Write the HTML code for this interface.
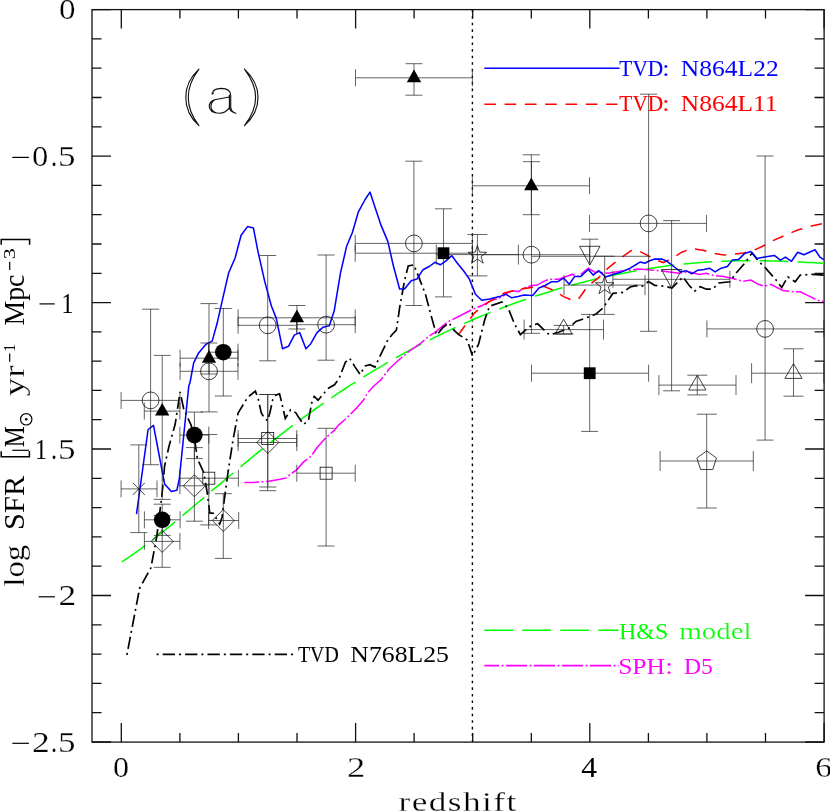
<!DOCTYPE html>
<html><head><meta charset="utf-8"><title>SFR vs redshift</title>
<style>html,body{margin:0;padding:0;background:#fff;}svg{display:block;}text{-webkit-font-smoothing:antialiased;}</style></head>
<body><svg width="830" height="811" viewBox="0 0 830 811">
<rect width="830" height="811" fill="#fff"/>
<g style="opacity:0.999">
<rect x="92.0" y="9.6" width="732.1" height="732.5" stroke="#111" stroke-width="1.3" fill="none"/>
<path d="M121.3,742.1v-19M121.3,9.6v19M179.9,742.1v-9M179.9,9.6v9M238.4,742.1v-9M238.4,9.6v9M297.0,742.1v-9M297.0,9.6v9M355.6,742.1v-19M355.6,9.6v19M414.1,742.1v-9M414.1,9.6v9M472.7,742.1v-9M472.7,9.6v9M531.3,742.1v-9M531.3,9.6v9M589.8,742.1v-19M589.8,9.6v19M648.4,742.1v-9M648.4,9.6v9M706.9,742.1v-9M706.9,9.6v9M765.5,742.1v-9M765.5,9.6v9M824.1,742.1v-19M824.1,9.6v19M92.0,9.6h19M824.1,9.6h-19M92.0,38.9h9.5M824.1,38.9h-9.5M92.0,68.2h9.5M824.1,68.2h-9.5M92.0,97.5h9.5M824.1,97.5h-9.5M92.0,126.8h9.5M824.1,126.8h-9.5M92.0,156.1h19M824.1,156.1h-19M92.0,185.4h9.5M824.1,185.4h-9.5M92.0,214.7h9.5M824.1,214.7h-9.5M92.0,244.0h9.5M824.1,244.0h-9.5M92.0,273.3h9.5M824.1,273.3h-9.5M92.0,302.6h19M824.1,302.6h-19M92.0,331.9h9.5M824.1,331.9h-9.5M92.0,361.2h9.5M824.1,361.2h-9.5M92.0,390.4h9.5M824.1,390.4h-9.5M92.0,419.7h9.5M824.1,419.7h-9.5M92.0,449.0h19M824.1,449.0h-19M92.0,478.3h9.5M824.1,478.3h-9.5M92.0,507.6h9.5M824.1,507.6h-9.5M92.0,536.9h9.5M824.1,536.9h-9.5M92.0,566.2h9.5M824.1,566.2h-9.5M92.0,595.5h19M824.1,595.5h-19M92.0,624.8h9.5M824.1,624.8h-9.5M92.0,654.1h9.5M824.1,654.1h-9.5M92.0,683.4h9.5M824.1,683.4h-9.5M92.0,712.7h9.5M824.1,712.7h-9.5M92.0,742.0h19M824.1,742.0h-19" stroke="#111" stroke-width="1.3" fill="none"/>
<path d="M472.4,9.6V741" stroke="#000" stroke-width="1.4" stroke-dasharray="2.6 3.98" fill="none"/>
<path d="M121.3,562.1 L127.2,558.4 L133.0,554.4 L138.9,550.2 L144.7,545.9 L150.6,541.5 L156.4,536.9 L162.3,532.2 L168.2,527.5 L174.0,522.7 L179.9,517.8 L185.7,512.9 L191.6,508.0 L197.4,503.0 L203.3,498.1 L209.1,493.1 L215.0,488.2 L220.9,483.3 L226.7,478.4 L232.6,473.5 L238.4,468.6 L244.3,463.7 L250.1,458.9 L256.0,454.1 L261.9,449.4 L267.7,444.7 L273.6,440.1 L279.4,435.6 L285.3,431.1 L291.1,426.6 L297.0,422.3 L302.9,417.9 L308.7,413.7 L314.6,409.5 L320.4,405.4 L326.3,401.3 L332.1,397.3 L338.0,393.4 L343.8,389.5 L349.7,385.7 L355.6,382.0 L361.4,378.3 L367.3,374.7 L373.1,371.1 L379.0,367.6 L384.8,364.2 L390.7,360.8 L396.6,357.5 L402.4,354.2 L408.3,351.0 L414.1,347.9 L420.0,344.8 L425.8,341.8 L431.7,338.9 L437.6,336.0 L443.4,333.1 L449.3,330.4 L455.1,327.6 L461.0,325.0 L466.8,322.4 L472.7,319.8 L478.5,317.3 L484.4,314.9 L490.3,312.5 L496.1,310.2 L502.0,308.0 L507.8,305.8 L513.7,303.6 L519.5,301.5 L525.4,299.5 L531.3,297.5 L537.1,295.6 L543.0,293.7 L548.8,291.9 L554.7,290.1 L560.5,288.3 L566.4,286.7 L572.3,285.0 L578.1,283.5 L584.0,281.9 L589.8,280.5 L595.7,279.1 L601.5,277.7 L607.4,276.4 L613.2,275.2 L619.1,274.0 L625.0,272.9 L630.8,271.8 L636.7,270.7 L642.5,269.7 L648.4,268.7 L654.2,267.8 L660.1,266.9 L666.0,266.1 L671.8,265.3 L677.7,264.6 L683.5,264.0 L689.4,263.4 L695.2,262.9 L701.1,262.4 L706.9,262.1 L712.8,261.7 L718.7,261.4 L724.5,261.2 L730.4,261.0 L736.2,260.8 L742.1,260.7 L747.9,260.7 L753.8,260.7 L759.7,260.7 L765.5,260.8 L771.4,260.9 L777.2,261.1 L783.1,261.3 L788.9,261.5 L794.8,261.8 L800.7,262.1 L806.5,262.4 L812.4,262.6 L818.2,262.9 L824.1,263.3" stroke="#00ff00" stroke-width="1.55" fill="none" stroke-dasharray="28.7 9.35" stroke-dashoffset="-0.55"/>
<path d="M244.3,482.4 L253.5,482.4 L263.1,481.7 L268.9,481.2 L280.0,479.3 L286.3,477.9 L290.1,474.5 L296.9,469.6 L303.6,461.9 L311.3,456.1 L317.1,447.5 L325.8,437.8 L334.5,430.1 L338.3,425.3 L345.1,419.5 L349.9,414.7 L355.7,408.9 L363.4,400.2 L367.2,393.5 L373.0,386.7 L380.7,380.0 L389.6,368.5 L398.7,360.0 L410.8,350.0 L419.8,344.0 L428.2,336.8 L435.9,331.7 L447.5,322.0 L461.0,315.3 L472.5,309.3 L482.2,305.5 L490.8,300.6 L499.3,298.0 L503.4,295.8 L508.0,292.5 L512.8,290.8 L518.6,291.6 L523.4,288.2 L528.2,286.7 L532.5,285.3 L536.9,285.3 L542.7,281.9 L548.8,279.3 L558.6,279.3 L572.2,274.4 L578.4,276.4 L588.2,268.2 L594.4,271.9 L608.0,273.2 L622.8,270.7 L630.0,270.2 L637.4,269.0 L644.8,269.5 L659.6,270.7 L669.5,271.9 L679.3,273.2 L689.2,271.9 L699.1,274.4 L706.4,273.2 L713.8,275.6 L723.7,276.4 L733.6,278.8 L743.4,281.3 L750.8,280.1 L758.2,284.3 L764.4,286.2 L770.6,284.3 L782.9,290.4 L792.8,291.7 L800.2,291.7 L807.6,295.4 L817.4,300.3 L823.8,301.5" stroke="#ff00ff" stroke-width="1.55" fill="none" stroke-dasharray="21.2 2.5 1.9 2.4" stroke-dashoffset="6.4"/>
<path d="M456.0,337.0 L460.0,332.4 L474.8,312.6 L489.6,301.5 L504.4,292.9 L519.2,289.2 L534.0,287.2 L543.8,286.2 L553.7,290.4 L563.6,296.6 L572.2,300.3 L578.4,299.1 L588.2,285.5 L598.1,278.1 L608.0,268.2 L620.3,258.4 L632.6,249.7 L640.0,251.5 L648.5,255.9 L654.7,259.6 L663.3,262.6 L671.9,258.4 L681.8,252.2 L691.7,248.5 L704.0,250.5 L713.8,253.4 L723.7,254.9 L733.6,254.2 L743.4,252.9 L753.3,250.5 L763.2,246.0 L773.0,240.6 L782.9,236.2 L797.7,230.0 L812.5,225.8 L823.8,223.4" stroke="#ff0000" stroke-width="1.55" fill="none" stroke-dasharray="11.6 8.7" stroke-dashoffset="-3"/>
<path d="M126.9,654.8 L139.6,588.3 L150.9,567.8 L156.7,537.0 L160.4,507.4 L161.7,498.0 L164.6,466.0 L169.0,446.3 L175.2,424.1 L180.1,392.0 L183.8,409.3 L191.2,425.4 L194.9,441.4 L197.4,458.6 L203.6,472.2 L207.3,493.2 L209.7,512.9 L213.4,513.4 L219.6,524.0 L222.0,517.8 L224.5,498.1 L228.2,471.0 L233.2,438.9 L238.1,413.0 L240.0,409.9 L247.7,397.3 L255.4,391.2 L258.3,399.3 L261.2,412.8 L264.1,417.6 L267.5,420.8 L269.9,412.8 L272.8,399.3 L276.0,395.0 L279.5,393.9 L281.4,401.2 L285.3,418.6 L290.5,409.9 L295.9,412.8 L298.8,417.6 L303.6,424.3 L308.4,420.5 L311.7,403.1 L314.2,396.4 L318.1,400.2 L322.9,394.5 L327.7,388.7 L334.5,384.8 L339.3,378.0 L345.4,362.2 L349.8,358.5 L355.2,367.1 L360.1,374.5 L365.1,365.9 L370.0,364.7 L374.9,367.1 L381.1,353.8 L388.0,339.6 L392.4,334.2 L396.4,330.2 L399.6,308.0 L404.5,280.8 L408.2,266.0 L413.9,264.8 L419.3,278.4 L425.5,294.4 L431.7,317.8 L436.6,335.1 L442.8,327.7 L448.9,322.8 L453.9,330.2 L458.8,334.6 L467.2,340.0 L472.5,356.0 L478.5,344.4 L484.7,319.7 L489.6,306.2 L501.9,302.0 L508.1,308.0 L514.3,323.5 L520.4,334.6 L524.4,331.0 L531.5,325.4 L537.7,323.8 L545.1,331.0 L549.5,335.0 L558.6,332.2 L568.5,328.5 L575.9,321.5 L585.8,318.0 L595.6,314.3 L603.0,308.0 L612.9,293.4 L622.8,292.4 L630.2,287.0 L636.0,285.7 L642.3,286.2 L648.5,281.6 L654.7,285.3 L664.5,286.2 L671.9,288.0 L678.1,281.8 L683.0,276.9 L689.2,285.5 L694.6,291.2 L700.3,286.7 L706.4,289.2 L712.6,289.2 L718.8,283.0 L729.9,281.8 L736.0,273.2 L744.7,263.3 L752.1,252.9 L758.2,260.8 L765.6,268.2 L775.5,279.3 L781.7,287.5 L787.8,276.9 L795.2,281.8 L800.2,275.1 L812.5,274.4 L823.8,275.1" stroke="#000" stroke-width="1.7" fill="none" stroke-dasharray="2 4.1 12.3 4"/>
<path d="M136.5,514.1 L148.1,429.5 L153.5,425.4 L164.6,484.0 L171.3,491.5 L176.9,490.2 L179.3,479.0 L185.3,420.0 L188.8,385.9 L190.0,382.5 L193.7,362.8 L198.6,352.9 L206.0,344.3 L212.2,341.1 L217.1,323.3 L223.3,296.2 L228.7,272.7 L235.1,258.0 L241.1,235.3 L247.5,226.6 L253.4,227.9 L257.8,250.6 L264.7,281.4 L271.4,306.0 L276.3,318.4 L282.5,348.7 L288.6,346.2 L294.3,335.1 L299.7,332.6 L305.9,348.7 L310.8,343.7 L317.0,332.6 L323.2,327.2 L329.3,325.7 L334.3,310.4 L340.4,273.4 L346.6,246.3 L352.3,232.7 L358.4,211.8 L365.1,199.5 L370.0,192.1 L374.9,206.9 L381.1,225.4 L387.8,241.4 L393.4,266.0 L399.6,289.0 L404.5,289.0 L411.2,280.8 L416.9,279.1 L423.0,269.7 L429.2,266.5 L434.9,262.3 L440.3,264.8 L445.7,261.1 L451.9,255.7 L457.6,263.6 L463.7,271.0 L469.4,279.1 L475.4,294.3 L481.7,300.3 L489.6,299.1 L499.5,296.6 L505.6,294.1 L511.8,297.8 L518.0,296.6 L524.1,294.9 L532.7,295.4 L538.9,288.0 L545.1,285.5 L551.2,281.8 L557.4,281.8 L563.6,278.1 L569.2,284.3 L574.7,276.4 L580.8,276.4 L588.2,269.5 L593.2,275.1 L598.6,270.7 L605.5,276.9 L612.9,274.4 L621.5,271.9 L630.2,268.2 L636.2,264.5 L639.9,262.1 L644.8,263.3 L649.7,260.8 L654.7,259.1 L662.1,259.1 L667.0,261.3 L674.4,267.0 L680.6,271.9 L686.2,270.7 L691.7,273.9 L697.8,270.2 L704.0,269.5 L709.4,268.2 L715.1,271.9 L721.2,268.2 L727.4,266.5 L732.3,260.1 L738.5,259.6 L744.7,253.4 L750.8,251.5 L757.0,258.4 L764.4,257.1 L774.3,255.4 L780.4,260.1 L785.4,257.1 L791.5,261.3 L797.7,252.2 L803.9,254.7 L815.0,249.7 L819.9,257.1 L823.8,259.6" stroke="#0000ff" stroke-width="1.55" fill="none" stroke-linejoin="round"/>
<path d="M121.1,400.4H179.9M121.1,391.9v17.0M179.9,391.9v17.0M150.6,309.2V464.7M142.1,309.2h17.0M142.1,464.7h17.0M180.1,371.3H238.0M180.1,362.8v17.0M238.0,362.8v17.0M209.0,303.6V411.9M200.5,303.6h17.0M200.5,411.9h17.0M238.1,325.3H296.8M238.1,316.8v17.0M296.8,316.8v17.0M267.7,255.5V360.8M259.2,255.5h17.0M259.2,360.8h17.0M296.8,324.7H355.2M296.8,316.2v17.0M355.2,316.2v17.0M326.1,255.0V360.2M317.6,255.0h17.0M317.6,360.2h17.0M355.2,243.4H472.4M355.2,234.9v17.0M472.4,234.9v17.0M413.9,161.2V305.5M405.4,161.2h17.0M405.4,305.5h17.0M472.4,254.7H589.5M472.4,246.2v17.0M589.5,246.2v17.0M531.5,161.7V333.3M523.0,161.7h17.0M523.0,333.3h17.0M589.5,223.4H706.5M589.5,214.9v17.0M706.5,214.9v17.0M648.6,94.2V331.3M640.1,94.2h17.0M640.1,331.3h17.0M706.9,328.9H823.8M706.9,320.4v17.0M823.8,320.4v17.0M765.1,156.0V440.1M756.6,156.0h17.0M756.6,440.1h17.0M144.3,411.1H179.9M144.3,402.6v17.0M179.9,402.6v17.0M162.2,355.4V499.4M153.7,355.4h17.0M153.7,499.4h17.0M180.1,358.2H238.0M180.1,349.7v17.0M238.0,349.7v17.0M209.0,343.0V374.0M200.5,343.0h17.0M200.5,374.0h17.0M238.1,317.8H355.2M238.1,309.3v17.0M355.2,309.3v17.0M296.9,305.5V329.0M288.4,305.5h17.0M288.4,329.0h17.0M355.5,77.8H472.4M355.5,69.3v17.0M472.4,69.3v17.0M414.0,63.7V95.2M405.5,63.7h17.0M405.5,95.2h17.0M472.4,185.8H589.5M472.4,177.3v17.0M589.5,177.3v17.0M531.3,154.8V214.7M522.8,154.8h17.0M522.8,214.7h17.0M144.4,519.8H180.1M144.4,511.3v17.0M180.1,511.3v17.0M162.2,504.2V535.4M153.7,504.2h17.0M153.7,535.4h17.0M179.9,435.1H208.8M179.9,426.6v17.0M208.8,426.6v17.0M194.4,412.1V458.6M185.9,412.1h17.0M185.9,458.6h17.0M208.5,352.2H238.0M208.5,343.7v17.0M238.0,343.7v17.0M223.3,308.5V396.0M214.8,308.5h17.0M214.8,396.0h17.0M144.4,541.4H179.9M144.4,532.9v17.0M179.9,532.9v17.0M162.2,515.5V567.3M153.7,515.5h17.0M153.7,567.3h17.0M179.9,485.8H209.0M179.9,477.3v17.0M209.0,477.3v17.0M194.4,447.6V521.2M185.9,447.6h17.0M185.9,521.2h17.0M208.6,520.5H238.7M208.6,512.0v17.0M238.7,512.0v17.0M223.3,493.7V558.4M214.8,493.7h17.0M214.8,558.4h17.0M238.1,442.5H296.8M238.1,434.0v17.0M296.8,434.0v17.0M267.8,394.5V487.0M259.3,394.5h17.0M259.3,487.0h17.0M179.9,478.2H238.4M179.9,469.7v17.0M238.4,469.7v17.0M208.8,434.5V524.9M200.3,434.5h17.0M200.3,524.9h17.0M238.1,438.5H296.8M238.1,430.0v17.0M296.8,430.0v17.0M267.7,394.5V490.7M259.2,394.5h17.0M259.2,490.7h17.0M296.8,473.2H355.2M296.8,464.7v17.0M355.2,464.7v17.0M326.1,428.3V546.0M317.6,428.3h17.0M317.6,546.0h17.0M121.1,488.9H157.0M121.1,480.4v17.0M157.0,480.4v17.0M138.8,444.9V532.6M130.3,444.9h17.0M130.3,532.6h17.0M355.2,253.2H472.4M355.2,244.7v17.0M472.4,244.7v17.0M443.5,208.8V296.9M435.0,208.8h17.0M435.0,296.9h17.0M531.5,373.2H648.6M531.5,364.7v17.0M648.6,364.7v17.0M589.7,314.4V431.4M581.2,314.4h17.0M581.2,431.4h17.0M436.3,254.6H518.4M436.3,244.6v20M518.4,244.6v20M477.4,234.5V275.9M467.4,234.5h20M467.4,275.9h20M564.0,285.1H645.0M564.0,275.1v20M645.0,275.1v20M604.7,256.2V314.4M594.7,256.2h20M594.7,314.4h20M589.9,239.2V265.1M581.4,239.2h17M531.5,256.3H648.6M612.9,279.3H729.9M612.9,270.8v17.0M729.9,270.8v17.0M671.6,220.6V390.8M663.1,220.6h17.0M663.1,390.8h17.0M524.1,329.6H603.5M524.1,319.6v20M603.5,319.6v20M563.6,325.4V334.0M553.6,325.4h20M553.6,334.0h20M658.9,385.1H736.0M658.9,375.1v20M736.0,375.1v20M697.3,375.2V394.9M687.3,375.2h20M687.3,394.9h20M751.6,373.2H823.8M751.6,363.2v20M823.8,363.2v20M793.5,348.8V396.2M783.5,348.8h20M783.5,396.2h20M660.1,461.0H753.3M660.1,451.0v20M753.3,451.0v20M706.7,414.2V508.0M696.7,414.2h20M696.7,508.0h20" stroke="#222" stroke-width="0.7" fill="none"/>
<circle cx="150.6" cy="400.4" r="8.4" stroke="#111" stroke-width="0.8" fill="none"/>
<circle cx="209" cy="371.3" r="8.4" stroke="#111" stroke-width="0.8" fill="none"/>
<circle cx="267.7" cy="325.3" r="8.4" stroke="#111" stroke-width="0.8" fill="none"/>
<circle cx="326.1" cy="324.7" r="8.4" stroke="#111" stroke-width="0.8" fill="none"/>
<circle cx="413.9" cy="243.4" r="8.4" stroke="#111" stroke-width="0.8" fill="none"/>
<circle cx="531.5" cy="254.7" r="8.4" stroke="#111" stroke-width="0.8" fill="none"/>
<circle cx="648.6" cy="223.4" r="8.4" stroke="#111" stroke-width="0.8" fill="none"/>
<circle cx="765.1" cy="328.9" r="8.4" stroke="#111" stroke-width="0.8" fill="none"/>
<path d="M162.2,402.9l7.2,12.7h-14.4z" fill="#000"/>
<path d="M209,350.0l7.2,12.7h-14.4z" fill="#000"/>
<path d="M296.9,309.59999999999997l7.2,12.7h-14.4z" fill="#000"/>
<path d="M414,69.60000000000001l7.2,12.7h-14.4z" fill="#000"/>
<path d="M531.3,177.6l7.2,12.7h-14.4z" fill="#000"/>
<circle cx="162.2" cy="519.8" r="8.3" fill="#000"/>
<circle cx="194.4" cy="435.1" r="8.3" fill="#000"/>
<circle cx="223.3" cy="352.2" r="8.3" fill="#000"/>
<path d="M162.2,530.4l11,11l-11,11l-11,-11z" stroke="#111" stroke-width="0.8" fill="none"/>
<path d="M194.4,474.8l11,11l-11,11l-11,-11z" stroke="#111" stroke-width="0.8" fill="none"/>
<path d="M223.3,509.5l11,11l-11,11l-11,-11z" stroke="#111" stroke-width="0.8" fill="none"/>
<path d="M267.8,431.5l11,11l-11,11l-11,-11z" stroke="#111" stroke-width="0.8" fill="none"/>
<rect x="202.8" y="472.2" width="12" height="12" stroke="#111" stroke-width="0.8" fill="none"/>
<rect x="261.7" y="432.5" width="12" height="12" stroke="#111" stroke-width="0.8" fill="none"/>
<rect x="320.1" y="467.2" width="12" height="12" stroke="#111" stroke-width="0.8" fill="none"/>
<path d="M132.8,482.9l12,12M144.8,482.9l-12,12" stroke="#111" stroke-width="0.8" fill="none"/>
<rect x="437.6" y="247.29999999999998" width="11.8" height="11.8" fill="#000"/>
<rect x="583.8000000000001" y="367.3" width="11.8" height="11.8" fill="#000"/>
<path d="M477.4,245.5 L479.6,252.2 L486.7,252.3 L481.0,256.5 L483.2,263.2 L477.4,259.1 L471.6,263.2 L473.8,256.5 L468.1,252.3 L475.2,252.2z" stroke="#111" stroke-width="0.8" fill="none"/>
<path d="M604.7,276.0 L606.9,282.7 L614.0,282.8 L608.3,287.0 L610.5,293.7 L604.7,289.6 L598.9,293.7 L601.1,287.0 L595.4,282.8 L602.5,282.7z" stroke="#111" stroke-width="0.8" fill="none"/>
<path d="M579.6,246.3h20.4L589.8,265.1z" stroke="#111" stroke-width="0.8" fill="none"/>
<path d="M661.4,269.5h20.4L671.6,288.2z" stroke="#111" stroke-width="0.8" fill="none"/>
<path d="M563.6,319.2l8.6,14.8h-17.2z" stroke="#111" stroke-width="0.8" fill="none"/>
<path d="M697.3,375.2l8.6,14.8h-17.2z" stroke="#111" stroke-width="0.8" fill="none"/>
<path d="M793.5,363.6l8.6,14.8h-17.2z" stroke="#111" stroke-width="0.8" fill="none"/>
<path d="M706.7,450.9 L716.5,458.0 L712.8,469.5 L700.6,469.5 L696.9,458.0z" stroke="#111" stroke-width="0.8" fill="none"/>
<path d="M484.3,68.2H619.6" stroke="#0000ff" stroke-width="1.55"/>
<path d="M484.3,104.2H617.5" stroke="#ff0000" stroke-width="1.55" stroke-dasharray="11.6 8.7"/>
<path d="M484.3,630.2H618.6" stroke="#00ff00" stroke-width="1.55" stroke-dasharray="28.7 9.3"/>
<path d="M484.3,665.6H618.6" stroke="#ff00ff" stroke-width="1.55" stroke-dasharray="21.2 2.5 1.9 2.4" stroke-dashoffset="6.4"/>
<path d="M156.6,654.3H294.6" stroke="#000" stroke-width="1.7" stroke-dasharray="2 4.1 12.3 4"/>
<text transform="translate(619.37,76.0) scale(0.890,1)" font-family="Liberation Serif, serif" font-size="24" fill="#0000ff" stroke="#0000ff" stroke-width="0.12">TVD</text>
<text transform="translate(662.31,76.0) scale(1.087,1)" font-family="Liberation Serif, serif" font-size="24" fill="#0000ff">:</text>
<text transform="translate(680.83,76.0) scale(1.064,1)" font-family="Liberation Serif, serif" font-size="24" fill="#0000ff">N864L22</text>
<text transform="translate(619.37,110.9) scale(0.890,1)" font-family="Liberation Serif, serif" font-size="24" fill="#ff0000" stroke="#ff0000" stroke-width="0.12">TVD</text>
<text transform="translate(662.31,110.9) scale(1.087,1)" font-family="Liberation Serif, serif" font-size="24" fill="#ff0000">:</text>
<text transform="translate(680.84,110.9) scale(1.061,1)" font-family="Liberation Serif, serif" font-size="24" fill="#ff0000">N864L11</text>
<text transform="translate(619.08,638.9) scale(0.997,1)" font-family="Liberation Serif, serif" font-size="24" fill="#00ff00">H&amp;S</text>
<text transform="translate(679.22,638.9) scale(1.206,1)" font-family="Liberation Serif, serif" font-size="24" fill="#00ff00" stroke="#fff" stroke-width="0.25">model</text>
<text transform="translate(618.14,673.8) scale(1.063,1)" font-family="Liberation Serif, serif" font-size="24" fill="#ff00ff">SPH</text>
<text transform="translate(665.41,673.8) scale(1.087,1)" font-family="Liberation Serif, serif" font-size="24" fill="#ff00ff">:</text>
<text transform="translate(684.09,673.8) scale(0.982,1)" font-family="Liberation Serif, serif" font-size="24" fill="#ff00ff">D5</text>
<text transform="translate(298.00,662.1) scale(0.827,1)" font-family="Liberation Serif, serif" font-size="24" fill="#000" stroke="#000" stroke-width="0.12">TVD</text>
<text transform="translate(350.33,662.1) scale(1.073,1)" font-family="Liberation Serif, serif" font-size="24" fill="#000">N768L25</text>
<text transform="translate(58.88,19.2) scale(1.141,1)" font-family="Liberation Serif, serif" font-size="29" fill="#000" stroke="#fff" stroke-width="0.25">0</text>
<text transform="translate(32.10,166.0) scale(1.125,1)" font-family="Liberation Serif, serif" font-size="29" fill="#000" stroke="#fff" stroke-width="0.25">0</text>
<text transform="translate(51.14,166.0) scale(0.776,1)" font-family="Liberation Serif, serif" font-size="29" fill="#000" stroke="#000" stroke-width="0.12">.</text>
<text transform="translate(58.10,166.0) scale(1.207,1)" font-family="Liberation Serif, serif" font-size="29" fill="#000" stroke="#fff" stroke-width="0.25">5</text>
<path d="M12.3,157.4H28.9" stroke="#000" stroke-width="1.2"/>
<text transform="translate(61.59,312.5) scale(0.816,1)" font-family="Liberation Serif, serif" font-size="29" fill="#000" stroke="#000" stroke-width="0.12">1</text>
<path d="M39.5,303.9H54.7" stroke="#000" stroke-width="1.2"/>
<text transform="translate(35.14,458.9) scale(0.797,1)" font-family="Liberation Serif, serif" font-size="29" fill="#000" stroke="#000" stroke-width="0.12">1</text>
<text transform="translate(51.14,458.9) scale(0.776,1)" font-family="Liberation Serif, serif" font-size="29" fill="#000" stroke="#000" stroke-width="0.12">.</text>
<text transform="translate(58.10,458.9) scale(1.207,1)" font-family="Liberation Serif, serif" font-size="29" fill="#000" stroke="#fff" stroke-width="0.25">5</text>
<path d="M12.3,450.3H28.9" stroke="#000" stroke-width="1.2"/>
<text transform="translate(58.40,605.4) scale(1.224,1)" font-family="Liberation Serif, serif" font-size="29" fill="#000" stroke="#fff" stroke-width="0.25">2</text>
<path d="M38.6,596.8H54.9" stroke="#000" stroke-width="1.2"/>
<text transform="translate(32.10,751.9) scale(1.224,1)" font-family="Liberation Serif, serif" font-size="29" fill="#000" stroke="#fff" stroke-width="0.25">2</text>
<text transform="translate(51.14,751.9) scale(0.776,1)" font-family="Liberation Serif, serif" font-size="29" fill="#000" stroke="#000" stroke-width="0.12">.</text>
<text transform="translate(58.10,751.9) scale(1.207,1)" font-family="Liberation Serif, serif" font-size="29" fill="#000" stroke="#fff" stroke-width="0.25">5</text>
<path d="M12.3,743.3H28.9" stroke="#000" stroke-width="1.2"/>
<text transform="translate(112.91,777.4) scale(1.108,1)" font-family="Liberation Serif, serif" font-size="29" fill="#000" stroke="#fff" stroke-width="0.25">0</text>
<text transform="translate(346.96,777.4) scale(1.259,1)" font-family="Liberation Serif, serif" font-size="29" fill="#000" stroke="#fff" stroke-width="0.25">2</text>
<text transform="translate(581.27,777.4) scale(1.090,1)" font-family="Liberation Serif, serif" font-size="29" fill="#000">4</text>
<text transform="translate(815.16,777.4) scale(1.155,1)" font-family="Liberation Serif, serif" font-size="29" fill="#000" stroke="#fff" stroke-width="0.25">6</text>
<text transform="translate(398.60,810.6) scale(1.280,1)" font-family="Liberation Serif, serif" font-size="27.5" fill="#000" stroke="#fff" stroke-width="0.25" letter-spacing="1.129">redshift</text>
<g transform="translate(23.7,585.5) rotate(-90)"><text transform="translate(-1.26,0) scale(1.135,1)" font-family="Liberation Serif, serif" font-size="29" fill="#000" stroke="#fff" stroke-width="0.25">log</text><text transform="translate(55.52,0) scale(1.051,1)" font-family="Liberation Serif, serif" font-size="29" fill="#000">SFR</text><text transform="translate(138.51,0) scale(0.798,1)" font-family="Liberation Serif, serif" font-size="29" fill="#000" stroke="#000" stroke-width="0.12">M</text><path d="M134.3,-22.5H128.8V5.7H134.6" stroke="#000" stroke-width="1.5" fill="none"/><circle cx="166.2" cy="2.5" r="5.7" stroke="#000" stroke-width="1.2" fill="none"/><circle cx="166.2" cy="2.5" r="1.3" fill="#000"/><text transform="translate(189.23,0) scale(1.274,1)" font-family="Liberation Serif, serif" font-size="29" fill="#000" stroke="#fff" stroke-width="0.25">yr</text><path d="M223.8,-14.0H231.9" stroke="#000" stroke-width="1.2"/><text transform="translate(233.41,-8.4) scale(0.934,1)" font-family="Liberation Serif, serif" font-size="17.5" fill="#000">1</text><text transform="translate(259.97,0) scale(0.960,1)" font-family="Liberation Serif, serif" font-size="29" fill="#000">Mpc</text><path d="M315.6,-14.0H323.7" stroke="#000" stroke-width="1.2"/><text transform="translate(326.30,-8.4) scale(1.267,1)" font-family="Liberation Serif, serif" font-size="17.5" fill="#000">3</text><path d="M340.7,-22.5H345.9V5.9H340.7" stroke="#000" stroke-width="1.5" fill="none"/></g>
<path d="M198.9,69.2C190,77.5 185.7,88 185.8,97.4C185.7,107 190,117.5 198.9,125.6M198.9,69.2C192,78.5 188.2,88.5 188.3,97.4C188.2,106.5 192,116.5 198.9,125.6M244.5,69.2C253.4,77.5 258.1,88 258,97.4C258.1,107 253.4,117.5 244.5,125.6M244.5,69.2C251.4,78.5 255.7,88.5 255.6,97.4C255.7,106.5 251.4,116.5 244.5,125.6M212.6,93.6C212.6,90.8 215,88.6 221.5,88.4C227.5,88.4 230.6,90.8 230.7,95.5V107C231,110.8 233,112.6 235.9,113.3M229.4,95V107.5C229.8,110.5 231.5,112.3 235.9,113.3M229.6,96.9C222,98.2 217,99 213.8,100.1C210.6,101.6 209.2,103.6 209.2,106.3C209.4,110.8 213.2,113.2 219.5,113.3C224,113.2 227.3,111 229.6,107.4M213.8,100.6C211.6,102 210.9,103.8 210.9,106.2C211,109.3 213,111.6 216,112.8" stroke="#111" stroke-width="1.15" fill="none" stroke-linecap="round"/>
<circle cx="212.6" cy="93.5" r="1.1" fill="#111"/>
</g>
</svg></body></html>
